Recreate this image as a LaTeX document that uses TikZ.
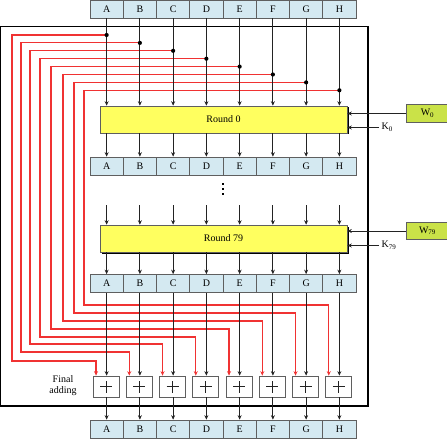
\documentclass[tikz,border=0pt]{standalone}
\usepackage{fontspec}
\setmainfont{Liberation Serif}
\usetikzlibrary{arrows.meta,calc}
\definecolor{regblue}{RGB}{212,233,241}
\definecolor{regedge}{RGB}{95,95,95}
\definecolor{ryellow}{RGB}{255,255,95}
\definecolor{wgreen}{RGB}{202,226,72}
\definecolor{lred}{RGB}{240,50,50}
\definecolor{lblack}{RGB}{35,35,35}
\begin{document}
\begin{tikzpicture}[x=1pt,y=-1pt, font=\fontsize{10}{12}\selectfont,
  cell/.style={draw=regedge, fill=regblue, minimum width=33.25pt, minimum height=18pt, inner sep=0pt, line width=0.7pt},
  roundbox/.style={draw=regedge, fill=ryellow, minimum width=247pt, minimum height=27pt, inner sep=0pt, line width=0.6pt},
  shadowbox/.style={fill=black, minimum width=247pt, minimum height=27pt, inner sep=0pt},
  wbox/.style={draw=regedge, fill=wgreen, minimum width=43pt, minimum height=17.5pt, inner sep=0pt, line width=0.6pt},
  adder/.style={draw=regedge, fill=white, minimum width=26pt, minimum height=21pt, inner sep=0pt, line width=0.7pt},
  arr/.style={draw=lblack, line width=0.8pt, -{Stealth[length=4.5pt,width=4pt]}},
  redarr/.style={draw=lred, color=lred, line width=1.2pt, -{Stealth[length=4.5pt,width=4pt]}},
  plusline/.style={draw=lblack, line width=0.6pt},
  dotm/.style={fill=black}
]
\useasboundingbox (0,0) rectangle (447,441);

% frame
\draw[line width=1.4pt] (0.7,26.5) rectangle (368,406);

% registers, adders and tap points
\foreach \L [count=\i from 0] in {A,B,C,D,E,F,G,H}{
  \pgfmathsetmacro{\cx}{90+33.25*(\i+0.5)}
  \node[cell] (t\L) at (\cx,9) {\L};
  \node[cell] (u\L) at (\cx,166) {\L};
  \node[cell] (v\L) at (\cx,283.5) {\L};
  \node[cell] (b\L) at (\cx,429) {\L};
  \node[adder] (s\L) at (\cx-0.6,386.5) {};
  \draw[plusline] ([xshift=-6pt]s\L.center) -- ([xshift=6pt]s\L.center)
                  ([yshift=-6pt]s\L.center) -- ([yshift=6pt]s\L.center);
  \coordinate (d\L) at (\cx,{35+7.9*\i});
}

% round boxes (with offset shadow)
\node[shadowbox] at (225,121) {};
\node[shadowbox] at (225,240) {};
\node[roundbox] (R0) at (223.5,119.5) {Round 0};
\node[roundbox] (R79) at (223.5,238.5) {Round 79};

% red feed-forward connectors
\foreach \L/\rx/\ry in {A/12/361,B/21/352,C/30/344,D/40/337,E/51/329,F/63/321,G/74/313,H/84/305}{
  \draw[redarr] (d\L) -| (\rx,\ry) -| ([xshift=-10pt]s\L.north);
}

% black data flow
\foreach \L in {A,B,C,D,E,F,G,H}{
  \draw[arr] (t\L.south) -- (t\L.south |- R0.north);
  \draw[arr] (u\L.north |- R0.south) -- (u\L.north);
  \draw[arr] ([yshift=-30pt]u\L.south) -- (u\L.south |- R79.north);
  \draw[arr] (v\L.north |- R79.south) -- (v\L.north);
  \draw[arr] (v\L.south) -- (v\L.south |- s\L.north);
  \draw[arr] (b\L.north |- s\L.south) -- (b\L.north);
  \fill[dotm] (d\L) circle (2.1pt);
}

% vertical ellipsis
\foreach \yy in {184,189,194}{
  \fill (221.8,\yy-1.3) rectangle (224.4,\yy+1.3);
}

% W and K inputs
\node[wbox] (W0) at (427.5,113.5) {W\textsubscript{0}};
\node[wbox] (W79) at (427.5,231) {W\textsubscript{79}};
\draw[arr] (W0.west) -- (W0.west -| R0.east);
\draw[arr] (W79.west) -- (W79.west -| R79.east);
\coordinate (k0) at (379,127.5);
\coordinate (k79) at (379,245.5);
\node[anchor=west, inner sep=0pt] (K0) at (381.5,127.5) {K\textsubscript{0}};
\node[anchor=west, inner sep=0pt] (K79) at (381.5,245.5) {K\textsubscript{79}};
\draw[arr] (k0) -- (k0 -| R0.east);
\draw[arr] (k79) -- (k79 -| R79.east);

% label
\node[align=center, inner sep=0pt, font=\fontsize{10}{11}\selectfont] (fa) at (63,386) {Final\\adding};
\end{tikzpicture}
\end{document}
